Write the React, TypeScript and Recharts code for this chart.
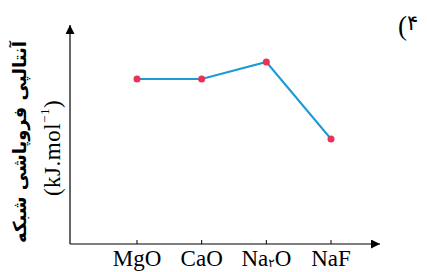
import { LineChart, Line, XAxis, YAxis } from "recharts";

const compounds = ["MgO", "CaO", "Na2O", "NaF"];
const latticeEnthalpy = [165, 165, 182, 105];
const yLabel = "آنتالپی فروپاشی شبکه";
const unitLabel = "(kJ.mol";
const cornerDigit = "۴";

const data = compounds.map((name, i) => ({ name, value: latticeEnthalpy[i] }));

const serif = "'Liberation Serif', 'Times New Roman', serif";
const sans = "'DejaVu Sans', sans-serif";

function Tick(props: any) {
  const { x, y, payload } = props;
  const v: string = payload.value;
  return (
    <g>
      <line x1={x} x2={x} y1={y - 4} y2={y} stroke="#000" strokeWidth={1} />
      <text x={x} y={y + 22} textAnchor="middle" style={{ fontFamily: serif }} fontSize={23} fill="#000">
        {v === "Na2O" ? (
          <>
            Na
            <tspan style={{ fontFamily: sans }} fontSize={12} dy={1}>
              ۲
            </tspan>
            <tspan dy={-1}>O</tspan>
          </>
        ) : (
          v
        )}
      </text>
    </g>
  );
}

export default function App() {
  const cy = 142;
  return (
    <div style={{ position: "absolute", left: 0, top: 0, width: 427, height: 272, background: "#fff" }}>
      <svg width={0} height={0} style={{ position: "absolute" }}>
        <defs>
          <marker
            id="arrow"
            viewBox="0 0 10 10"
            refX={10}
            refY={5}
            markerWidth={11}
            markerHeight={9}
            markerUnits="userSpaceOnUse"
            orient="auto-start-reverse"
          >
            <path d="M0,0 L10,5 L0,10 z" fill="#000" />
          </marker>
        </defs>
      </svg>
      <LineChart width={427} height={272} data={data} margin={{ top: 25, right: 47, bottom: 0, left: 0 }}>
        <XAxis
          dataKey="name"
          height={28}
          padding={{ left: 67, right: 49 }}
          tickSize={0}
          tickMargin={0}
          tickLine={false}
          axisLine={{ stroke: "#000", strokeWidth: 1.2, markerEnd: "url(#arrow)" }}
          tick={<Tick />}
          interval={0}
        />
        <YAxis
          width={70}
          domain={[0, 219]}
          tick={false}
          tickLine={false}
          axisLine={{ stroke: "#000", strokeWidth: 1.2, markerStart: "url(#arrow)" }}
        />
        <Line
          type="linear"
          dataKey="value"
          stroke="#1b9ad6"
          strokeWidth={2}
          dot={{ r: 3.5, fill: "#ea3159", stroke: "none" }}
          isAnimationActive={false}
        />
      </LineChart>
      <svg width={427} height={272} style={{ position: "absolute", left: 0, top: 0, pointerEvents: "none" }}>
        <text
          x={19}
          y={cy}
          transform={`rotate(-90 19 ${cy})`}
          textAnchor="middle"
          dominantBaseline="central"
          style={{ fontFamily: sans, fontWeight: 600 }}
          fontSize={18}
          fill="#000"
        >
          {yLabel}
        </text>
        <text
          x={52}
          y={cy + 6}
          transform={`rotate(-90 52 ${cy + 6})`}
          textAnchor="middle"
          dominantBaseline="central"
          style={{ fontFamily: serif, letterSpacing: "0.5px" }}
          fontSize={23}
          fill="#000"
        >
          {unitLabel}
          <tspan fontSize={13} dy={-8}>
            −1
          </tspan>
          <tspan dy={8}>)</tspan>
        </text>
        <text x={398} y={35} style={{ fontFamily: serif }} fontSize={27} fill="#000">
          (
        </text>
        <text x={407} y={30} style={{ fontFamily: sans }} fontSize={21} fill="#000">
          {cornerDigit}
        </text>
      </svg>
    </div>
  );
}
